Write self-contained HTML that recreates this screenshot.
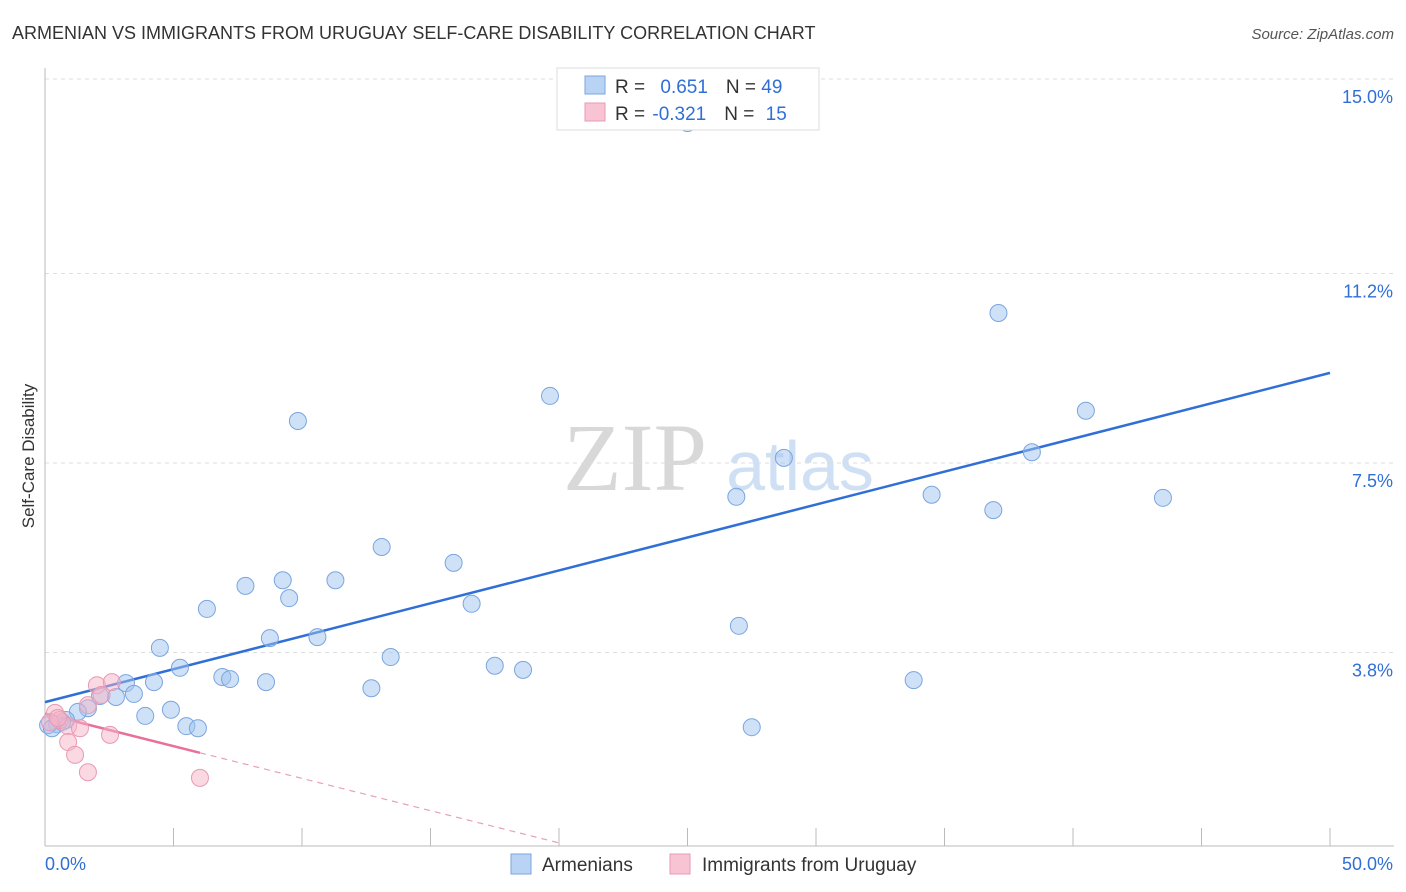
<!DOCTYPE html>
<html><head><meta charset="utf-8"><style>
body{margin:0;background:#fff;font-family:"Liberation Sans",sans-serif;}
svg{display:block}
</style></head><body>
<svg id="chart" width="1406" height="892" xmlns="http://www.w3.org/2000/svg">
<text x="12" y="39" font-size="18" fill="#333">ARMENIAN VS IMMIGRANTS FROM URUGUAY SELF-CARE DISABILITY CORRELATION CHART</text>
<text x="1394" y="39" font-size="15" fill="#555" text-anchor="end" font-style="italic">Source: ZipAtlas.com</text>
<text transform="translate(34,456) rotate(-90)" font-size="17" fill="#333" text-anchor="middle">Self-Care Disability</text>
<g><text x="635" y="490" font-size="96" fill="#d8d8d8" font-family="Liberation Serif,serif" text-anchor="middle">ZIP</text><text x="800" y="490" font-size="70" fill="#cfe0f5" text-anchor="middle">atlas</text></g>
<g id="grid"></g><g id="axes"></g><g id="trend"></g><g id="pts"></g>
<g>
<rect x="557" y="68" width="262" height="62" fill="#fff" stroke="#ddd"/>
<rect x="585" y="76" width="20" height="18" fill="#b9d3f5" stroke="#7aa5e0"/>
<text x="615" y="93" font-size="19" fill="#333">R = <tspan fill="#2f6fd6" dx="10">0.651</tspan><tspan dx="18" fill="#333">N = </tspan><tspan fill="#2f6fd6">49</tspan></text>
<rect x="585" y="103" width="20" height="18" fill="#f8c4d4" stroke="#e89ab4"/>
<text x="615" y="120" font-size="19" fill="#333">R = <tspan fill="#2f6fd6" dx="2">-0.321</tspan><tspan dx="18" fill="#333">N = </tspan><tspan fill="#2f6fd6" dx="6">15</tspan></text>
</g>
<g>
<rect x="511" y="854" width="20" height="20" fill="#b9d3f5" stroke="#7aa5e0"/>
<text x="542" y="871" font-size="19" fill="#333">Armenians</text>
<rect x="670" y="854" width="20" height="20" fill="#f8c4d4" stroke="#e89ab4"/>
<text x="702" y="871" font-size="19" fill="#333">Immigrants from Uruguay</text>
</g>
</svg>
<script>
const yTicks=[3.8,7.5,11.2,15.0];
const yTickLabels=["3.8%","7.5%","11.2%","15.0%"];
const xTicks=[0,5,10,15,20,25,30,35,40,45,50];
const armX=[25.0,37.1,19.65,9.84,40.5,38.4,28.75,26.9,34.5,43.5,36.9,13.1,15.9,7.8,9.25,11.3,9.5,6.3,16.6,27.0,8.75,10.6,4.47,13.45,5.25,17.5,18.6,6.9,7.2,33.8,8.6,4.24,3.15,12.7,3.46,2.76,2.14,4.9,1.67,3.9,1.28,5.5,5.95,27.5,0.82,0.47,0.12,0.66,0.27];
const armY=[14.14,10.43,8.81,8.32,8.52,7.71,7.6,6.84,6.88,6.82,6.58,5.86,5.55,5.1,5.21,5.21,4.86,4.65,4.75,4.32,4.08,4.1,3.89,3.71,3.5,3.54,3.46,3.32,3.28,3.26,3.22,3.22,3.2,3.1,2.99,2.93,2.95,2.68,2.71,2.56,2.64,2.36,2.32,2.34,2.48,2.4,2.38,2.44,2.32];
const uruX=[2.02,2.6,1.67,0.39,0.58,0.9,1.36,2.53,0.9,1.17,1.67,6.03,0.19,0.5,2.2];
const uruY=[3.16,3.22,2.77,2.62,2.48,2.36,2.32,2.19,2.05,1.8,1.46,1.35,2.44,2.52,2.97];
const armTrend=[2.83,9.26];
const uruTrend=[2.6,0.08];
const uruSolidEnd=6.03, uruDashEnd=20;
const X=v=>45+v*25.7, Y=v=>847-v*51.2;
const NS="http://www.w3.org/2000/svg";
function mk(p,t,a){const e=document.createElementNS(NS,t);for(const k in a)e.setAttribute(k,a[k]);p.appendChild(e);return e;}
const grid=document.getElementById('grid'),axes=document.getElementById('axes');
yTicks.forEach((v,i)=>{
const l=mk(grid,'line',{x1:45,x2:1394,y1:Y(v),y2:Y(v),stroke:'#ddd','stroke-dasharray':'4,4'});


const t=mk(axes,'text',{x:1393,y:Y(v)+24,'font-size':18,fill:'#2f6fd6','text-anchor':'end'});t.textContent=yTickLabels[i];


});
const ax=mk(axes,'line',{x1:45,x2:1394,y1:846,y2:846,stroke:'#bbb'});


const ay=mk(axes,'line',{x1:45,x2:45,y1:68,y2:846,stroke:'#bbb'});


xTicks.forEach(v=>{const t=mk(axes,'line',{x1:X(v),x2:X(v),y1:828,y2:846,stroke:'#bbb'});

});
const t0=mk(axes,'text',{x:45,y:870,'font-size':18,fill:'#2f6fd6'});t0.textContent=xTicks[0].toFixed(1)+'%';


const t1=mk(axes,'text',{x:1393,y:870,'font-size':18,fill:'#2f6fd6','text-anchor':'end'});t1.textContent=xTicks[xTicks.length-1].toFixed(1)+'%';


const pts=document.getElementById('pts');
armX.forEach((x,i)=>{const c=mk(pts,'circle',{cx:X(x),cy:Y(armY[i]),r:8.5,fill:'rgba(160,195,240,0.5)',stroke:'#7aa5e0','stroke-width':1});

});
uruX.forEach((x,i)=>{const c=mk(pts,'circle',{cx:X(x),cy:Y(uruY[i]),r:8.5,fill:'rgba(245,180,200,0.5)',stroke:'#e89ab4','stroke-width':1});

});
const tr=document.getElementById('trend');
const bl=mk(tr,'line',{x1:X(0),y1:Y(armTrend[0]),x2:X(50),y2:Y(armTrend[1]),stroke:'#2f6fd6','stroke-width':2.5});


const ps=t=>uruTrend[0]+(uruTrend[1]-uruTrend[0])*t/uruDashEnd;
const pl=mk(tr,'line',{x1:X(0),y1:Y(ps(0)),x2:X(uruSolidEnd),y2:Y(ps(uruSolidEnd)),stroke:'#e8709a','stroke-width':2.5});


const pd=mk(tr,'line',{x1:X(uruSolidEnd),y1:Y(ps(uruSolidEnd)),x2:X(uruDashEnd),y2:Y(ps(uruDashEnd)),stroke:'#e8a0b8','stroke-width':1.2,'stroke-dasharray':'6,5'});


</script>
</body></html>
